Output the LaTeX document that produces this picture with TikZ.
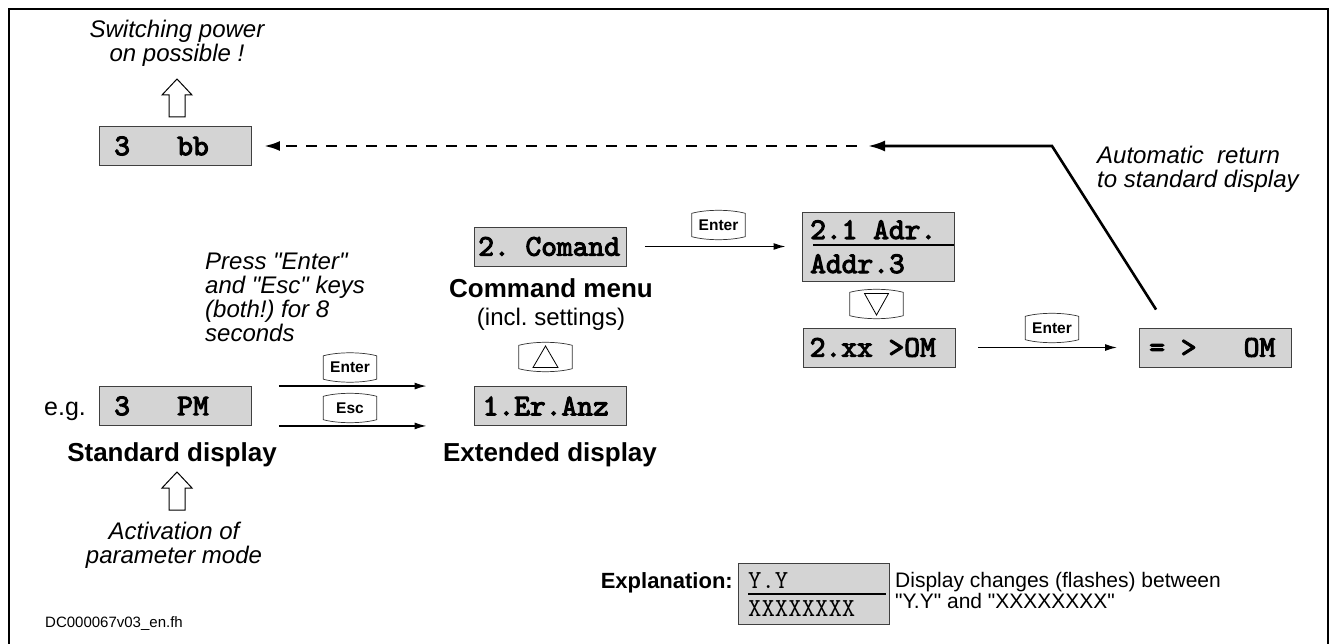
\documentclass[tikz,border=0pt]{standalone}
\usepackage{fontspec}
\setmainfont{Liberation Sans}
\newfontfamily\qfont{Liberation Sans}
\newfontfamily\dispfont{lmmono10-regular.otf}[FakeBold=3.5]
\usetikzlibrary{arrows.meta,calc}
\frenchspacing
\tikzset{
 disp/.style={draw=black!75, line width=0.9pt, fill=black!17, inner sep=0pt, minimum width=152pt, minimum height=39pt},
 dtext/.style={inner sep=0pt, font=\dispfont\bfseries\fontsize{30}{30}\selectfont},
 etext/.style={inner sep=0pt, font=\ttfamily\fontsize{26}{26}\selectfont},
 keyb/.style={inner sep=0pt, minimum width=53pt, minimum height=29pt, font=\bfseries\fontsize{15.5}{15.5}\selectfont},
 keyline/.style={draw=black!80, line width=0.7pt},
 ital/.style={inner sep=0pt, font=\itshape\fontsize{24}{24}\selectfont},
 boldlab/.style={inner sep=0pt, font=\bfseries\fontsize{26}{26}\selectfont},
 plain/.style={inner sep=0pt, font=\fontsize{24}{24}\selectfont},
 arr/.style={line width=1.4pt, -{Latex[length=12pt,width=7pt]}},
 hollow/.style={draw=black, line width=1pt, fill=white},
 thick ret/.style={line width=2.6pt},
}
\newcommand\drawkey[3]{%
 \node[keyb] (#1) at (#2) {#3};
 \draw[keyline] ($(#1.north west)+(0,3)$) -- ($(#1.south west)+(0,-3)$)
   .. controls ($(#1.south west)+(15,1)$) and ($(#1.south east)+(-15,1)$) .. ($(#1.south east)+(0,-3)$)
   -- ($(#1.north east)+(0,3)$)
   .. controls ($(#1.north east)+(-15,-1)$) and ($(#1.north west)+(15,-1)$) .. ($(#1.north west)+(0,3)$) -- cycle;}
\begin{document}
\begin{tikzpicture}[x=1pt,y=-1pt]
\useasboundingbox (0,0) rectangle (1335,644);
% frame
\draw[line width=2.4pt] (9,650) -- (9,9) -- (1328,9) -- (1328,650);

% top: 3 bb
\node[ital, anchor=north, align=center] (sw) at (177,19.5) {Switching power\\on possible !};
\draw[hollow] (169,117) -- (169,95) -- (162,95) -- (177,79) -- (192,95) -- (185,95) -- (185,117) -- cycle;
\node[disp] (bb) at (175.5,146) {};
\node[dtext, anchor=west] (bbt) at ([xshift=15pt]bb.west) {3\ \ \ bb};

% command menu
\node[disp] (comand) at (550.5,246.5) {};
\node[dtext, anchor=west] (comandt) at ([xshift=4pt]comand.west) {2.\ Comand};
\node[boldlab, anchor=base] (cmdlab) at (551,297) {Command menu};
\node[plain, anchor=base] (cmdsub) at (551,325) {(incl. settings)};

% 2.1 Adr box
\node[disp, minimum height=69pt] (adr) at (878,246.5) {};
\node[dtext, anchor=base west] (adr1) at (810,239) {2.1\ Adr.};
\draw[line width=1.6pt] (813,245) -- (adr.east |- 0,245);
\node[dtext, anchor=base west] (adr2) at (810,273) {Addr.3};

\drawkey{kenter1}{718.5,225}{Enter}
\draw[arr] ([xshift=18pt]comand.east) -- ([xshift=-16pt]adr.west |- comand.east);

\drawkey{kdown}{876.5,304}{}
\draw[line width=0.8pt] ($(kdown.center)+(-12,-10.5)$) -- ($(kdown.center)+(12,-10.5)$) -- ($(kdown.center)+(0,11)$) -- cycle;

\node[disp] (xx) at (879,347.5) {};
\node[dtext, anchor=west] (xxt) at ([xshift=7pt]xx.west) {2.xx\ >OM};

\drawkey{kenter2}{1052,328}{Enter}
\node[disp] (om) at (1215.5,347.5) {};
\node[dtext, anchor=west] (omt) at ([xshift=10pt]om.west) {=\ >\ \ \ OM};
\draw[arr] ([xshift=23pt]xx.east) -- ([xshift=-22pt]om.west);

% return path
\coordinate (r1) at ($(om.north west)+(17,-18)$);
\coordinate (r2) at (1052,146);
\coordinate (r3) at (868,146);
\coordinate (r4) at (857,146);
\draw[thick ret, -{Latex[length=17pt,width=11pt]}] (r1) -- (r2) -- (r3);
\draw[thick ret, dash pattern=on 11pt off 9pt, -{Latex[length=16pt,width=10pt]}] (r4) -- ([xshift=12pt]bb.east);
\node[ital, anchor=north west, align=left] (auto) at (1097,146) {Automatic\ \ return\\to standard display};

% left: standard display
\node[plain, anchor=base west, font=\fontsize{25}{25}\selectfont] (eg) at (44,415) {e.g.};
\node[disp] (pm) at (175.5,406) {};
\node[dtext, anchor=west] (pmt) at ([xshift=15pt]pm.west) {3\ \ \ PM};
\node[boldlab, anchor=base] (stdlab) at (172,461) {Standard display};
\draw[hollow] (169,510) -- (169,488) -- (162,488) -- (177,472) -- (192,488) -- (185,488) -- (185,510) -- cycle;
\node[ital, anchor=north, align=center] (act) at (174,521.5) {Activation of\\parameter mode};
\node[inner sep=0pt, anchor=base west, font=\fontsize{15}{15}\selectfont] (dc) at (45,627) {DC000067v03\_en.fh};

\node[ital, anchor=north west, align=left, font=\qfont\itshape\fontsize{24}{24}\selectfont] (press) at (205,253) {Press "Enter"\\and "Esc" keys\\(both!) for 8\\seconds};

% extended display
\node[disp] (er) at (550,406) {};
\node[dtext, anchor=west] (ert) at ([xshift=9pt]er.west) {1.Er.Anz};
\node[boldlab, anchor=base] (extlab) at (550,461) {Extended display};
\drawkey{kup}{545.5,357}{}
\draw[line width=0.8pt] ($(kup.center)+(-12.5,10.5)$) -- ($(kup.center)+(12.5,10.5)$) -- ($(kup.center)+(0,-11)$) -- cycle;

\drawkey{kenter3}{350,367.5}{Enter}
\drawkey{kesc}{350,408}{Esc}
\draw[arr] ([xshift=27pt]pm.north east) -- ([xshift=-47pt]pm.north east -| er.west);
\draw[arr] ([xshift=27pt]pm.south east) -- ([xshift=-47pt]pm.south east -| er.west);

% explanation
\node[inner sep=0pt, anchor=base east, font=\bfseries\fontsize{22}{22}\selectfont] (expl) at (733,588) {Explanation:};
\node[disp, minimum width=151pt, minimum height=61pt] (ex) at (813.5,593.5) {};
\node[etext, anchor=base west] (ex1) at (748,588) {Y.Y};
\draw[line width=1.6pt] (748,594) -- (886,594);
\node[etext, anchor=base west] (ex2) at (748,616) {XXXXXXXX};
\node[inner sep=0pt, anchor=north west, align=left, font=\qfont\fontsize{21}{21}\selectfont] (exd) at (895,572.5) {Display changes (flashes) between\\"Y.Y" and "XXXXXXXX"};
\end{tikzpicture}
\end{document}
